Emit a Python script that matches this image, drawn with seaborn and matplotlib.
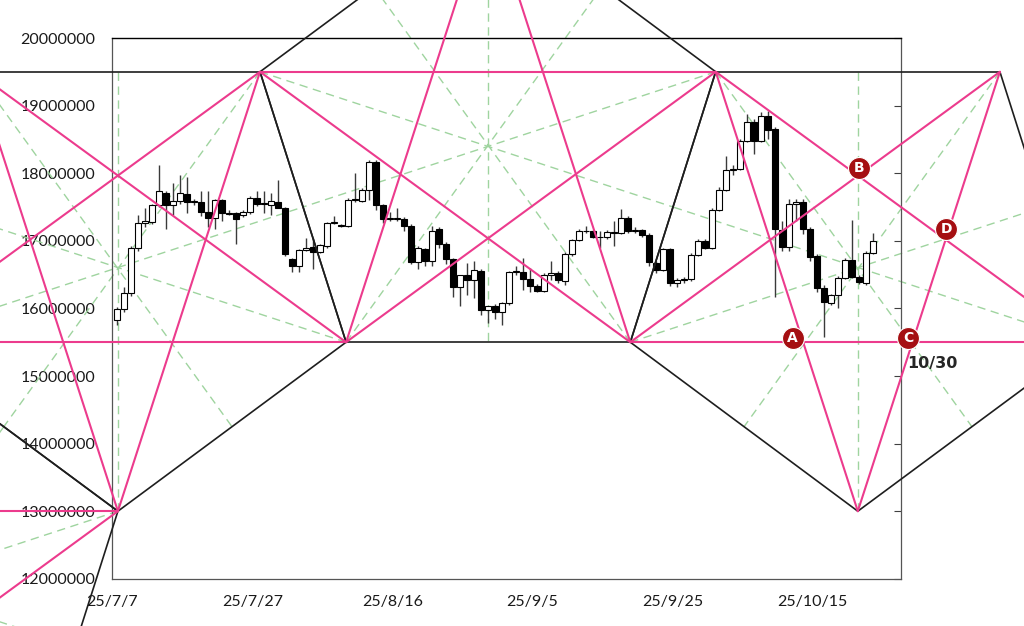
import numpy as np
import matplotlib
matplotlib.use("Agg")
import matplotlib.pyplot as plt
import seaborn as sns

# daily candles 25/7/7 .. 25/10/23, price in millions of yen
opens = [15.83, 15.99, 16.23, 16.89, 17.27, 17.28, 17.53, 17.71, 17.53, 17.59,
         17.69, 17.58, 17.58, 17.43, 17.33, 17.61, 17.41, 17.41, 17.38, 17.42,
         17.64, 17.55, 17.53, 17.58, 17.49, 16.73, 16.63, 16.87, 16.91, 16.84,
         16.92, 17.26, 17.23, 17.22, 17.61, 17.59, 17.75, 18.17, 17.53, 17.32,
         17.32, 17.32, 17.22, 16.69, 16.88, 16.70, 17.17, 16.96, 16.73, 16.31,
         16.49, 16.42, 16.56, 15.98, 16.04, 15.95, 16.08, 16.54, 16.54, 16.44,
         16.33, 16.26, 16.49, 16.52, 16.40, 16.80, 17.01, 17.15, 17.14, 17.06,
         17.05, 17.13, 17.12, 17.33, 17.14, 17.16, 17.09, 16.67, 16.57, 16.88,
         16.37, 16.42, 16.43, 16.79, 17.00, 16.90, 17.46, 17.75, 18.05, 18.06,
         18.48, 18.76, 18.48, 18.85, 18.66, 17.16, 16.91, 17.55, 17.58, 17.18,
         16.77, 16.30, 16.08, 16.20, 16.45, 16.72, 16.47, 16.37, 16.82]
highs = [16.02, 16.32, 16.92, 17.38, 17.48, 17.55, 18.12, 17.73, 17.85, 17.97,
         17.95, 17.62, 17.73, 17.73, 17.62, 17.62, 17.45, 17.43, 17.45, 17.66,
         17.73, 17.73, 17.70, 17.90, 17.50, 16.75, 16.88, 17.04, 17.04, 16.96,
         17.28, 17.36, 17.25, 17.63, 18.00, 17.78, 18.19, 18.20, 17.55, 17.43,
         17.48, 17.35, 17.25, 16.92, 16.90, 17.22, 17.20, 16.98, 16.75, 16.49,
         16.67, 16.70, 16.58, 16.04, 16.06, 16.10, 16.56, 16.62, 16.74, 16.60,
         16.36, 16.52, 16.70, 16.55, 16.84, 17.03, 17.17, 17.22, 17.16, 17.14,
         17.16, 17.30, 17.47, 17.36, 17.20, 17.18, 17.11, 16.70, 16.90, 16.90,
         16.45, 16.46, 16.82, 17.02, 17.02, 17.48, 17.80, 18.26, 18.12, 18.50,
         18.88, 18.80, 18.90, 18.92, 18.68, 17.30, 17.62, 17.62, 17.62, 17.20,
         16.80, 16.35, 16.22, 16.48, 16.74, 17.31, 16.50, 16.85, 17.12]
lows = [15.75, 15.95, 16.18, 16.85, 17.21, 17.25, 17.50, 17.18, 17.38, 17.55,
        17.41, 17.53, 17.36, 17.21, 17.18, 17.30, 17.38, 16.95, 17.35, 17.40,
        17.52, 17.41, 17.38, 17.48, 16.77, 16.54, 16.54, 16.85, 16.59, 16.82,
        16.90, 17.25, 17.20, 17.20, 17.58, 17.57, 17.60, 17.45, 17.26, 17.30,
        17.30, 17.15, 16.65, 16.58, 16.62, 16.63, 16.90, 16.65, 16.17, 16.03,
        16.20, 16.15, 15.90, 15.79, 15.85, 15.76, 16.05, 16.50, 16.27, 16.25,
        16.24, 16.24, 16.42, 16.38, 16.35, 16.78, 16.99, 17.12, 17.04, 16.90,
        17.02, 16.92, 17.10, 17.12, 17.12, 17.05, 16.62, 16.52, 16.55, 16.33,
        16.32, 16.38, 16.41, 16.77, 16.88, 16.88, 17.44, 17.73, 17.98, 18.04,
        18.46, 18.29, 18.46, 18.50, 16.17, 16.85, 16.85, 17.30, 17.10, 16.70,
        16.25, 15.57, 16.05, 16.00, 16.43, 16.45, 16.36, 16.35, 16.80]
closes = [15.99, 16.23, 16.89, 17.27, 17.29, 17.53, 17.73, 17.53, 17.59, 17.71,
          17.58, 17.57, 17.43, 17.33, 17.61, 17.41, 17.40, 17.32, 17.43, 17.64,
          17.55, 17.54, 17.59, 17.49, 16.80, 16.63, 16.86, 16.89, 16.84, 16.94,
          17.26, 17.27, 17.22, 17.61, 17.60, 17.75, 18.17, 17.53, 17.32, 17.33,
          17.33, 17.22, 16.69, 16.89, 16.70, 17.14, 16.96, 16.73, 16.31, 16.49,
          16.42, 16.57, 15.98, 16.04, 15.95, 16.08, 16.54, 16.55, 16.44, 16.33,
          16.26, 16.49, 16.52, 16.42, 16.80, 17.01, 17.15, 17.14, 17.06, 17.05,
          17.13, 17.12, 17.33, 17.14, 17.16, 17.09, 16.69, 16.57, 16.88, 16.37,
          16.42, 16.43, 16.79, 17.00, 16.90, 17.46, 17.75, 18.05, 18.06, 18.48,
          18.76, 18.48, 18.84, 18.64, 17.18, 16.91, 17.55, 17.57, 17.18, 16.76,
          16.30, 16.10, 16.20, 16.45, 16.72, 16.47, 16.39, 16.82, 16.99]

x_ticks = [0, 20, 40, 60, 80, 100]
x_labels = ["25/7/7", "25/7/27", "25/8/16", "25/9/5", "25/9/25", "25/10/15"]
y_ticks = [12, 13, 14, 15, 16, 17, 18, 19, 20]
y_labels = ["12000000", "13000000", "14000000", "15000000", "16000000",
            "17000000", "18000000", "19000000", "20000000"]

# pentagon vertices (day from 7/7, price in millions)
vertex = {
    "a1": (0.8, 13.0), "v1": (21.1, 19.5), "v2": (33.4, 15.5),
    "v3": (74.0, 15.5), "v4": (86.2, 19.5), "v5": (106.5, 13.0),
    "v6": (126.8, 19.5), "v7": (139.1, 15.5), "top": (53.7, 22.0),
    "l1": (-19.5, 19.5), "l2": (-31.8, 15.5), "l3": (-64.3, 13.0),
    "l4": (-11.5, 9.0), "l5": (-52.0, 9.0),
}
# each pentagon listed going round its corners
pentagons = [
    ["a1", "v2", "v1", "l1", "l2"],
    ["top", "v4", "v3", "v2", "v1"],
    ["v5", "v7", "v6", "v4", "v3"],
    ["l2", "a1", "l4", "l5", "l3"],
]

marks = ["A", "B", "C", "D"]
mark_day = [97.2, 106.7, 113.7, 119.1]
mark_price = [15.56, 18.08, 15.56, 17.17]
note_text = "10/30"
note_day, note_price = 117.2, 15.19

sns.set_theme(style="white")
plt.rcParams["font.family"] = ["Lato", "DejaVu Sans"]

fig = plt.figure(figsize=(10.24, 6.26), dpi=100)
ax = fig.add_axes([112.3 / 1024, 47.2 / 626, 788.7 / 1024, 540.8 / 626])

PINK = "#EC3B8D"
BLACK = "#1E1E1E"
GREEN = "#9FD49F"

# geometry overlay
for pent in pentagons:
    for i in range(5):
        a, b = vertex[pent[i]], vertex[pent[(i + 1) % 5]]
        ax.plot([a[0], b[0]], [a[1], b[1]], color=BLACK, lw=1.2,
                clip_on=False, zorder=5, solid_capstyle="round")
        c = vertex[pent[(i + 2) % 5]]
        ax.plot([a[0], c[0]], [a[1], c[1]], color=PINK, lw=1.5,
                clip_on=False, zorder=6, solid_capstyle="round")
        m1, m2 = vertex[pent[(i + 2) % 5]], vertex[pent[(i + 3) % 5]]
        mid = ((m1[0] + m2[0]) / 2, (m1[1] + m2[1]) / 2)
        ax.plot([a[0], mid[0]], [a[1], mid[1]], color=GREEN, lw=1.0,
                dashes=(6, 4), clip_on=False, zorder=2)

# candles
x = np.arange(len(opens)) + 0.71
o = np.array(opens)
c = np.array(closes)
up = c >= o
body_low = np.minimum(o, c)
body_h = np.maximum(np.abs(c - o), 0.012)
ax.vlines(x, lows, highs, color="#3A3A3A", lw=1.0, zorder=3)
ax.bar(x, body_h, bottom=body_low, width=0.8,
       color=np.where(up, "white", "black"), edgecolor="black",
       linewidth=0.8, zorder=4)

# labels A-D
ax.scatter(mark_day, mark_price, s=250, color="#A50F12", edgecolor="white",
           linewidth=0.8, clip_on=False, zorder=8)
for m, d, p in zip(marks, mark_day, mark_price):
    ax.text(d, p, m, color="white", fontsize=10, fontweight="bold",
            ha="center", va="center", family="DejaVu Sans", zorder=9,
            clip_on=False)
ax.text(note_day, note_price, note_text, fontsize=11.5, fontweight="bold",
        ha="center", va="center", family="DejaVu Sans", zorder=9,
        clip_on=False)

ax.set_xlim(0, 112.67)
ax.set_ylim(12, 20)
ax.set_xticks(x_ticks)
ax.set_xticklabels(x_labels)
ax.set_yticks(y_ticks)
ax.set_yticklabels(y_labels)
ax.tick_params(axis="both", direction="in", length=5, width=0.8,
               colors="#404040", labelcolor="#1a1a1a", labelsize=11.5)
ax.tick_params(axis="y", right=True, pad=12)
ax.tick_params(axis="x", pad=12)
ax.grid(False)
for side in ["left", "bottom", "right"]:
    ax.spines[side].set_color("#555555")
    ax.spines[side].set_linewidth(0.9)
ax.spines["top"].set_color("black")
ax.spines["top"].set_linewidth(1.0)
ax.set_facecolor("none")

fig.savefig("out.png", dpi=100, facecolor="white")
